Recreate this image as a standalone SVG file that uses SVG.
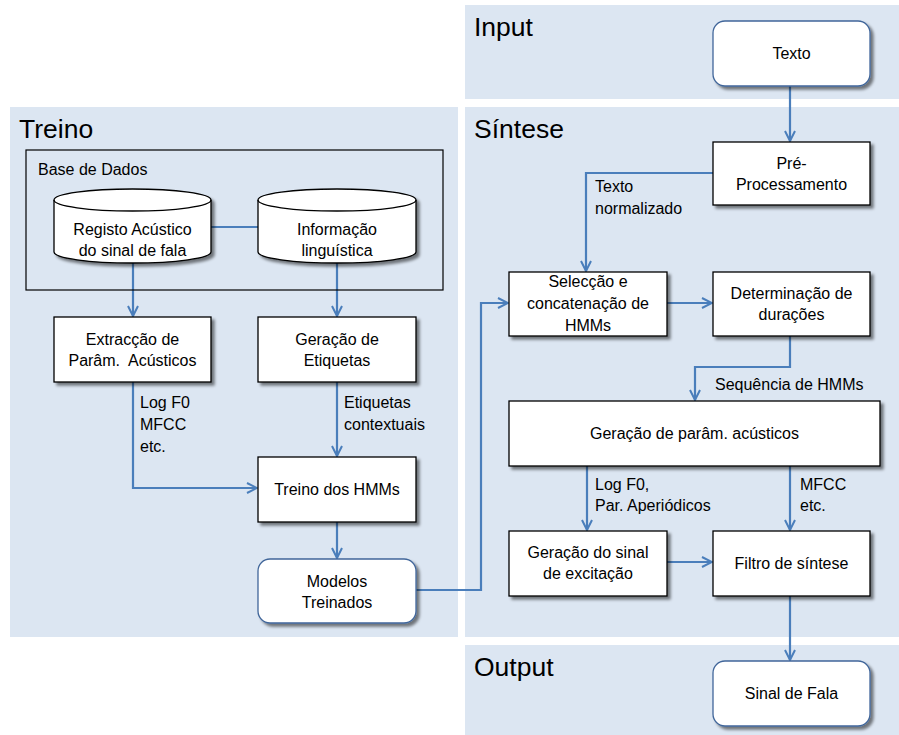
<svg xmlns="http://www.w3.org/2000/svg" width="899" height="735" viewBox="0 0 899 735">
  <style>
    .panel { fill: #dce6f2; }
    .title { font-family: "Liberation Sans", Arial, sans-serif; font-size: 26.5px; fill: #000; }
    .box { fill: #fff; stroke: #000; stroke-width: 1.3; filter: url(#shadow); }
    .term { fill: #fff; stroke: #41669a; stroke-width: 1.3; filter: url(#shadow); }
    .db { fill: none; stroke: #000; stroke-width: 1.2; }
    .t { font-family: "Liberation Sans", Arial, sans-serif; font-size: 16px; fill: #000; text-anchor: middle; }
    .lbl { font-family: "Liberation Sans", Arial, sans-serif; font-size: 16px; fill: #000; }
    .conn { fill: none; stroke: #4a7ebb; stroke-width: 2.2; }
  </style>
  <defs>
    <filter id="shadow" x="-10%" y="-10%" width="125%" height="130%">
      <feGaussianBlur in="SourceAlpha" stdDeviation="1.6"/>
      <feOffset dx="3" dy="3" result="b"/>
      <feComponentTransfer><feFuncA type="linear" slope="0.5"/></feComponentTransfer>
      <feMerge><feMergeNode/><feMergeNode in="SourceGraphic"/></feMerge>
    </filter>
    <marker id="arrow" viewBox="0 0 12 12" refX="11" refY="6" markerWidth="12" markerHeight="12" markerUnits="userSpaceOnUse" orient="auto">
      <path d="M1,1 L11,6 L1,11" fill="none" stroke="#4a7ebb" stroke-width="2"/>
    </marker>
  </defs>

  <!-- background panels -->
  <g id="panels">
    <rect class="panel" x="10" y="107" width="448" height="530"/>
    <rect class="panel" x="465" y="5" width="434" height="94"/>
    <rect class="panel" x="465" y="107" width="434" height="530"/>
    <rect class="panel" x="465" y="645" width="434" height="90"/>
    <text class="title" x="19" y="138">Treino</text>
    <text class="title" x="474" y="36">Input</text>
    <text class="title" x="474" y="138">Síntese</text>
    <text class="title" x="474" y="676">Output</text>
  </g>

  <!-- connectors -->
  <g id="connectors">
    <path class="conn" d="M211,227 H258"/>
    <path class="conn" d="M133,262 V316" marker-end="url(#arrow)"/>
    <path class="conn" d="M337,262 V316" marker-end="url(#arrow)"/>
    <path class="conn" d="M133,382 V488 H257" marker-end="url(#arrow)"/>
    <path class="conn" d="M337,382 V456" marker-end="url(#arrow)"/>
    <path class="conn" d="M337,522 V558" marker-end="url(#arrow)"/>
    <path class="conn" d="M416,590 H481 V303 H508" marker-end="url(#arrow)"/>
    <path class="conn" d="M790,86 V141" marker-end="url(#arrow)"/>
    <path class="conn" d="M713,173 H586 V271" marker-end="url(#arrow)"/>
    <path class="conn" d="M667,303 H712" marker-end="url(#arrow)"/>
    <path class="conn" d="M790,336 V367 H695 V400" marker-end="url(#arrow)"/>
    <path class="conn" d="M587,466 V530" marker-end="url(#arrow)"/>
    <path class="conn" d="M790,466 V530" marker-end="url(#arrow)"/>
    <path class="conn" d="M667,562 H712" marker-end="url(#arrow)"/>
    <path class="conn" d="M790,596 V660" marker-end="url(#arrow)"/>
  </g>

  <!-- connector labels -->
  <g id="labels">
    <text class="lbl" x="140" y="408">Log F0</text>
    <text class="lbl" x="140" y="430">MFCC</text>
    <text class="lbl" x="140" y="452">etc.</text>
    <text class="lbl" x="344" y="408">Etiquetas</text>
    <text class="lbl" x="344" y="430">contextuais</text>
    <text class="lbl" x="595" y="192">Texto</text>
    <text class="lbl" x="595" y="214">normalizado</text>
    <text class="lbl" x="715" y="390">Sequência de HMMs</text>
    <text class="lbl" x="595" y="490">Log F0,</text>
    <text class="lbl" x="595" y="511">Par. Aperiódicos</text>
    <text class="lbl" x="800" y="490">MFCC</text>
    <text class="lbl" x="800" y="511">etc.</text>
  </g>

  <!-- database group -->
  <g id="base-de-dados">
    <rect class="db" x="26" y="150" width="417" height="140"/>
    <text class="lbl" x="38" y="175" font-size="15">Base de Dados</text>
  </g>
  <g id="registo-acustico">
    <path d="M54,200 A78.5,11 0 0 1 211,200 V252 A78.5,11 0 0 1 54,252 Z" fill="#fff" stroke="#000" stroke-width="1.3" filter="url(#shadow)"/>
    <path d="M54,200 A78.5,11 0 0 0 211,200" fill="none" stroke="#000" stroke-width="1.3"/>
    <text class="t" x="132.5" y="235">Registo Acústico</text>
    <text class="t" x="132.5" y="256">do sinal de fala</text>
  </g>
  <g id="informacao-linguistica">
    <path d="M258,200 A79,11 0 0 1 416,200 V252 A79,11 0 0 1 258,252 Z" fill="#fff" stroke="#000" stroke-width="1.3" filter="url(#shadow)"/>
    <path d="M258,200 A79,11 0 0 0 416,200" fill="none" stroke="#000" stroke-width="1.3"/>
    <text class="t" x="337" y="235">Informação</text>
    <text class="t" x="337" y="256">linguística</text>
  </g>

  <!-- training nodes -->
  <g id="extraccao">
    <rect class="box" x="54" y="317" width="157" height="65"/>
    <text class="t" x="132.5" y="345">Extracção de</text>
    <text class="t" x="132.5" y="366" xml:space="preserve">Parâm.  Acústicos</text>
  </g>
  <g id="geracao-etiquetas">
    <rect class="box" x="258" y="317" width="158" height="65"/>
    <text class="t" x="337" y="345">Geração de</text>
    <text class="t" x="337" y="366">Etiquetas</text>
  </g>
  <g id="treino-hmms">
    <rect class="box" x="258" y="457" width="158" height="65"/>
    <text class="t" x="337" y="495">Treino dos HMMs</text>
  </g>
  <g id="modelos-treinados">
    <rect class="term" x="258" y="559" width="158" height="64" rx="12"/>
    <text class="t" x="337" y="587">Modelos</text>
    <text class="t" x="337" y="608">Treinados</text>
  </g>

  <!-- synthesis nodes -->
  <g id="texto">
    <rect class="term" x="713" y="21" width="157" height="65" rx="12"/>
    <text class="t" x="791.5" y="59">Texto</text>
  </g>
  <g id="pre-processamento">
    <rect class="box" x="713" y="142" width="157" height="63"/>
    <text class="t" x="791.5" y="169">Pré-</text>
    <text class="t" x="791.5" y="190">Processamento</text>
  </g>
  <g id="seleccao">
    <rect class="box" x="509" y="272" width="158" height="64"/>
    <text class="t" x="588" y="287">Selecção e</text>
    <text class="t" x="588" y="309">concatenação de</text>
    <text class="t" x="588" y="331">HMMs</text>
  </g>
  <g id="duracoes">
    <rect class="box" x="713" y="272" width="157" height="64"/>
    <text class="t" x="791.5" y="299">Determinação de</text>
    <text class="t" x="791.5" y="320">durações</text>
  </g>
  <g id="geracao-parametros">
    <rect class="box" x="509" y="401" width="371" height="65"/>
    <text class="t" x="694.5" y="439">Geração de parâm. acústicos</text>
  </g>
  <g id="excitacao">
    <rect class="box" x="509" y="531" width="158" height="65"/>
    <text class="t" x="588" y="558">Geração do sinal</text>
    <text class="t" x="588" y="579">de excitação</text>
  </g>
  <g id="filtro">
    <rect class="box" x="713" y="531" width="157" height="65"/>
    <text class="t" x="791.5" y="569">Filtro de síntese</text>
  </g>
  <g id="sinal-de-fala">
    <rect class="term" x="713" y="661" width="157" height="65" rx="12"/>
    <text class="t" x="791.5" y="699">Sinal de Fala</text>
  </g>
</svg>
